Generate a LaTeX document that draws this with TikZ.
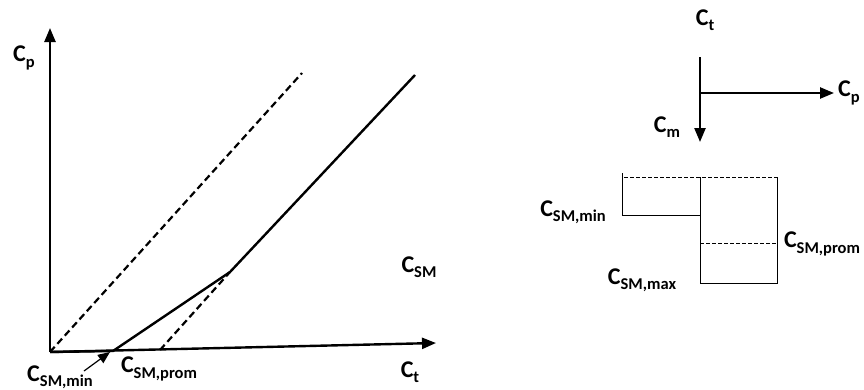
\documentclass[tikz,border=0pt]{standalone}
\usepackage{fontspec}
\setmainfont{Carlito}[BoldFont=Carlito Bold]
\usetikzlibrary{arrows.meta,positioning}
\newcommand{\lbl}[2]{C\raisebox{-0.22em}{\fontsize{16.5}{17}\selectfont #2}}
\tikzset{
  axis/.style={line width=2.4pt, -{Triangle[length=14pt,width=11pt]}},
  curve/.style={line width=2.4pt},
  dcurve/.style={line width=2.2pt, dash pattern=on 7pt off 4pt},
  box/.style={line width=1pt},
  dbox/.style={line width=1pt, dash pattern=on 3.5pt off 2.5pt},
  txt/.style={font=\bfseries\fontsize{24}{26}\selectfont, inner sep=0pt}
}
\begin{document}
\begin{tikzpicture}[x=1pt,y=-1pt]
    \useasboundingbox (0,0) rectangle (864,389);
    % Left plot
    \coordinate (O) at (50,352);
    \coordinate (ytip) at (50,28);
    \coordinate (xtip) at (436,343);
    \coordinate (dtop) at (302,73);
    \coordinate (smin) at (113,351);
    \coordinate (knee) at (230,272);
    \coordinate (stop) at (415,75);
    \coordinate (dprom) at (160,350);
    \draw[axis] (O) -- (ytip);
    \draw[axis] (O) -- (xtip);
    \draw[dcurve] (O) -- (dtop);
    \draw[curve] (O) -- (smin) -- (knee) -- (stop);
    \draw[dcurve] (dprom) -- (knee);
    \node[txt] (cp) at (24,58) {\lbl{C}{p}};
    \node[txt] (ct) at (410,372) {\lbl{C}{t}};
    \node[txt] (csm) at (419,267) {\lbl{C}{SM}};
    \node[txt] (cprom) at (159,369) {\lbl{C}{SM,prom}};
    \node[txt] (cmin) at (60,377) {\lbl{C}{SM,min}};
    \draw[line width=1.2pt, -{Triangle[length=12pt,width=10pt]}] (84,371) -- (110,352);

    % Right sketch
    \begin{scope}
        \coordinate (vtop) at (700,57);
        \coordinate (vtip) at (700,142);
        \coordinate (hbase) at (700,93);
        \coordinate (htip) at (834,93);
        \draw[axis] (vtop) -- (vtip);
        \draw[axis] (hbase) -- (htip);
        \node[txt] (rct) at (705,20) {\lbl{C}{t}};
        \node[txt, anchor=west] (rcp) at (838,93) {\lbl{C}{p}};
        \node[txt] (rcm) at (667,127) {\lbl{C}{m}};

        \draw[box] (622,173) -- (622,215) -- (700,215);
        \draw[box] (700,177) -- (700,283) -- (777,283) -- (777,177);
        \draw[dbox] (624,177) -- (777,177);
        \draw[dbox] (700,243) -- (777,243);
        \node[txt] (rmin) at (573,212) {\lbl{C}{SM,min}};
        \node[txt] (rprom) at (822,244) {\lbl{C}{SM,prom}};
        \node[txt] (rmax) at (642,280) {\lbl{C}{SM,max}};
    \end{scope}
\end{tikzpicture}
\end{document}
